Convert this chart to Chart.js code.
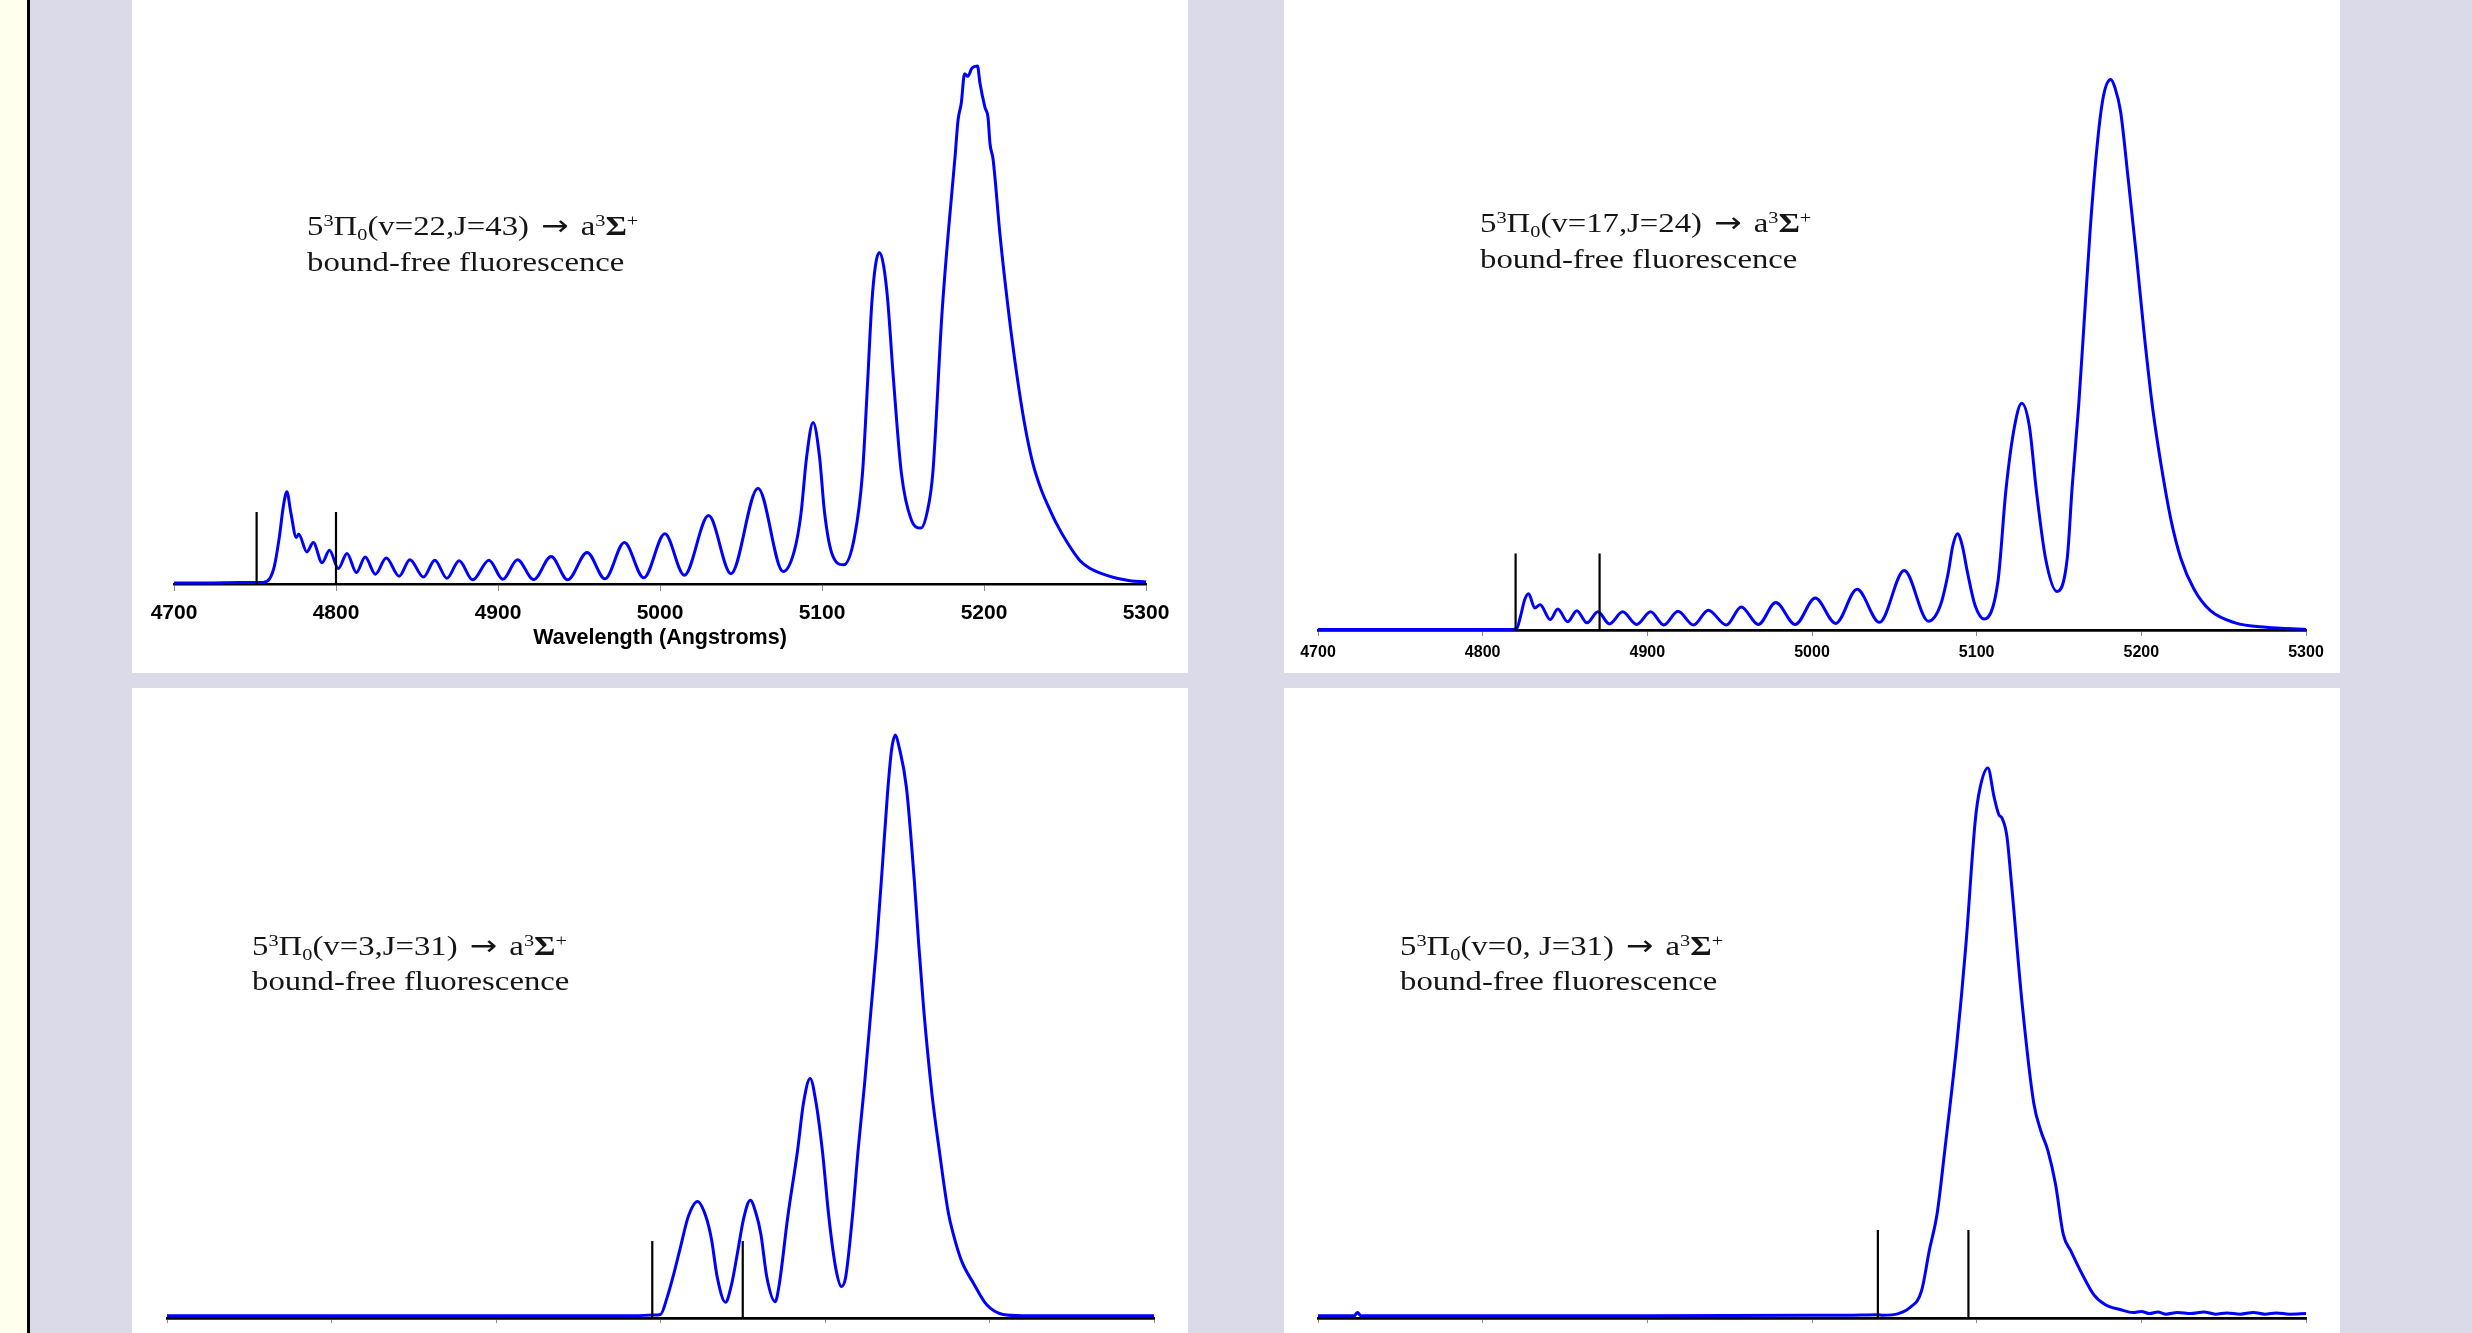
<!DOCTYPE html>
<html>
<head>
<meta charset="utf-8">
<title>5³Π₀ → a³Σ⁺ bound-free fluorescence</title>
<script src="https://cdn.jsdelivr.net/npm/chart.js@4.4.1/dist/chart.umd.min.js"></script>
<style>
  html, body { margin: 0; padding: 0; }
  body {
    width: 2472px; height: 1333px; overflow: hidden; position: relative;
    background: #dbdae8;
  }
  #strip { position: absolute; left: 0; top: 0; width: 27px; height: 1333px; background: #ffffee; }
  #rule { position: absolute; left: 27px; top: 0; width: 2.5px; height: 1333px; background: #000; }
  .panel { position: absolute; background: #fff; }
  .panel canvas { position: absolute; left: 0; top: 0; }
  .note {
    position: absolute; white-space: nowrap; color: #151515;
    font-family: "Liberation Serif", "Times New Roman", serif;
    font-size: 28px; line-height: 36px;
    transform: scaleX(1.17); transform-origin: 0 0;
  }
  .note sup, .note sub { font-size: 0.62em; line-height: 0; position: relative; vertical-align: baseline; }
  .note sup { top: -0.52em; }
  .note sub { top: 0.28em; }
  .note b { font-weight: bold; }
  .note .arrow { font-family: "DejaVu Sans", sans-serif; font-size: 1em; margin: 0 0.12em; }
</style>
</head>
<body>
<div id="strip"></div>
<div id="rule"></div>

<div class="panel" style="left:132px; top:0; width:1056px; height:673px;"><canvas id="c1" width="1056" height="673"></canvas></div>
<div class="panel" style="left:1284px; top:0; width:1056px; height:673px;"><canvas id="c2" width="1056" height="673"></canvas></div>
<div class="panel" style="left:132px; top:688px; width:1056px; height:645px;"><canvas id="c3" width="1056" height="645"></canvas></div>
<div class="panel" style="left:1284px; top:688px; width:1056px; height:645px;"><canvas id="c4" width="1056" height="645"></canvas></div>

<div class="note" style="left:307px; top:208px;">5<sup>3</sup>Π<sub>0</sub>(v=22,J=43) <span class="arrow">→</span> a<sup>3</sup><b>Σ</b><sup>+</sup></div>
<div class="note" style="left:307px; top:244px;">bound-free fluorescence</div>
<div class="note" style="left:1480px; top:205px;">5<sup>3</sup>Π<sub>0</sub>(v=17,J=24) <span class="arrow">→</span> a<sup>3</sup><b>Σ</b><sup>+</sup></div>
<div class="note" style="left:1480px; top:241px;">bound-free fluorescence</div>
<div class="note" style="left:252px; top:928px;">5<sup>3</sup>Π<sub>0</sub>(v=3,J=31) <span class="arrow">→</span> a<sup>3</sup><b>Σ</b><sup>+</sup></div>
<div class="note" style="left:252px; top:963px;">bound-free fluorescence</div>
<div class="note" style="left:1400px; top:928px;">5<sup>3</sup>Π<sub>0</sub>(v=0, J=31) <span class="arrow">→</span> a<sup>3</sup><b>Σ</b><sup>+</sup></div>
<div class="note" style="left:1400px; top:963px;">bound-free fluorescence</div>

<script>
// Wavelength axis (Angstroms)
const tickValues = [4700, 4800, 4900, 5000, 5100, 5200, 5300];

// v=22, J=43 spectrum (relative intensity, main peak = 100)
const wl1 = [4700, 4720, 4740, 4755, 4759, 4762, 4765, 4767.5, 4769.7, 4772, 4775.5, 4777, 4782, 4786,
  4791.4, 4796, 4801.4, 4806.8, 4812.6, 4818, 4824.3, 4831, 4839, 4845.6, 4854, 4861, 4868.5, 4876,
  4884.4, 4894.4, 4903, 4912, 4922, 4932.8, 4943, 4955, 4966, 4978, 4990, 5003, 5015, 5030, 5043.8,
  5060.5, 5076, 5083, 5087, 5090.5, 5094.5, 5098.5, 5101.5, 5106, 5113.4, 5120, 5125, 5128, 5130.7,
  5133, 5135.4, 5138, 5140.5, 5144, 5149, 5155, 5161, 5165, 5168.4, 5174, 5178, 5182, 5184, 5186,
  5188, 5190, 5192.6, 5196, 5197.5, 5200.6, 5202.5, 5203.7, 5205.6, 5210, 5215, 5220, 5225, 5230,
  5235, 5240, 5245, 5251, 5259, 5265, 5273.6, 5282, 5290, 5300];
const int1 = [0.2, 0.2, 0.3, 0.3, 1.0, 3.5, 9, 15, 17.8, 14, 9.0, 9.6, 6.2, 8.0,
  4.1, 6.5, 3.0, 5.9, 2.2, 5.2, 1.9, 5.0, 1.5, 4.7, 1.35, 4.6, 1.1, 4.5,
  0.8, 4.6, 0.9, 4.7, 0.85, 5.3, 0.8, 6.1, 1.0, 8.0, 1.2, 9.7, 1.7, 13.2, 2.0,
  18.5, 2.4, 6.5, 13.5, 24.5, 31.2, 24.5, 14, 6, 3.7, 9, 21.4, 38, 54,
  61.5, 64, 61.5, 55, 40, 21.4, 12.5, 10.8, 14, 21.4, 51.9, 68, 82, 89.6, 92.9,
  98.5, 98.0, 99.6, 100, 96.7, 92, 90, 85, 82, 67, 53, 41, 31, 23.5,
  18.5, 14.8, 11.5, 8.2, 4.6, 3.1, 1.9, 1.1, 0.64, 0.4];
const markers1 = [4751, 4800];
const markerTop1 = 13.9;

// v=17, J=24 spectrum
const wl2 = [4700, 4760, 4815, 4820.5, 4823, 4825.5, 4827.9, 4831.6, 4834.9, 4841, 4845.6, 4851.6,
  4857.2, 4863.3, 4870, 4877, 4885, 4893.5, 4902, 4910, 4918.6, 4928, 4937, 4948, 4957, 4967.4,
  4978, 4989.8, 5002, 5014.4, 5027.4, 5041, 5056, 5070.7, 5078, 5082.8, 5085.5, 5088.4, 5091.3,
  5094.4, 5099, 5104.6, 5113, 5117.7, 5123, 5127.4, 5132, 5136.3, 5141.9, 5148.8, 5155, 5158, 5162,
  5165.5, 5169, 5173.5, 5177, 5181.4, 5184, 5187.4, 5192, 5197, 5202, 5207, 5212, 5218, 5224, 5232,
  5242, 5257, 5276, 5300];
const int2 = [0.1, 0.1, 0.1, 0.2, 2.5, 5.5, 6.6, 4.0, 4.6, 1.9, 3.8, 1.5,
  3.5, 1.3, 3.3, 1.1, 3.3, 1.0, 3.3, 0.9, 3.4, 0.9, 3.6, 0.9, 4.2, 1.0,
  5.0, 1.0, 5.8, 1.2, 7.4, 1.4, 10.8, 1.6, 4.5, 10.5, 15.3, 17.5, 15.3,
  10.5, 4.5, 2.0, 9.0, 25.2, 37, 41.2, 37, 25.2, 12.9, 7.0, 13, 26, 41,
  57, 73, 89, 97, 100, 98.5, 94.2, 82, 68, 53, 40, 30, 20, 13, 7.4,
  3.5, 1.3, 0.5, 0.1];
const markers2 = [4820, 4871];
const markerTop2 = 13.9;

// v=3, J=31 spectrum
const wl3 = [4700, 4850, 4985, 4995, 5000, 5004, 5008, 5012, 5017, 5022.5, 5027.5, 5031, 5034.5,
  5039.5, 5043, 5047, 5050.5, 5054.6, 5058, 5061, 5064.7, 5069.7, 5072.2, 5077.3, 5083.3, 5087,
  5091, 5094.5, 5098.4, 5102.4, 5106.5, 5110, 5112.5, 5116.6, 5120.1, 5124, 5128, 5131.3, 5135,
  5138, 5140.5, 5142.8, 5145, 5149.5, 5154.3, 5157, 5160, 5165, 5169.5, 5175, 5178, 5183, 5190.6,
  5198.2, 5208.3, 5220, 5300];
const int3 = [0.4, 0.4, 0.4, 0.5, 0.6, 3.5, 7.5, 12, 17.5, 20, 17.5, 13.5, 7,
  2.7, 5.5, 11.5, 17, 20.2, 18, 14.4, 6.9, 2.8, 5.8, 17.2, 28.7, 37,
  41.1, 37, 28.7, 17.2, 8.6, 5.4, 6.9, 17.2, 28.7, 40, 53, 63.7, 78,
  90, 97.5, 100, 98, 91, 75, 64, 53, 38.5, 28.7, 18, 14.4, 9.8, 5.8,
  2.3, 0.6, 0.4, 0.4];
const markers3 = [4995, 5050];
const markerTop3 = 13.2;

// v=0, J=31 spectrum
const wl4 = [4700, 4722, 4724, 4726, 4800, 4900, 5000, 5020, 5040, 5043, 5052.5, 5059.5, 5066.5,
  5071.2, 5076, 5080.6, 5088, 5093.4, 5099.2, 5102, 5106.8, 5110.6, 5113.5, 5115.4, 5118.3, 5121.1,
  5127.8, 5134.6, 5139, 5143.3, 5147.9, 5152.6, 5157.2, 5164.2, 5171.2, 5178.2, 5187.5, 5195, 5200,
  5205, 5210, 5215, 5222, 5230, 5238, 5245, 5252, 5260, 5268, 5275, 5282, 5290, 5300];
const int4 = [0.4, 0.4, 1.0, 0.4, 0.4, 0.4, 0.5, 0.5, 0.6, 0.5, 0.8, 1.9, 4.9,
  12.2, 19, 30.4, 50, 67.6, 90.6, 96.3, 100, 94.7, 91.5, 90.9, 87.7, 79.1,
  56.6, 39.2, 34, 30.4, 24.3, 15.2, 12.2, 7.9, 4.2, 2.4, 1.5, 1.0, 1.2,
  0.8, 1.1, 0.7, 1.0, 0.8, 1.1, 0.7, 0.9, 0.7, 1.0, 0.7, 0.9, 0.7, 0.8];
const markers4 = [5040, 5095];
const markerTop4 = 16.0;

const BLUE = '#0000ff';

function points(xs, ys) {
  return xs.map((x, i) => ({ x: x, y: ys[i] }));
}

function buildPanel(id, wl, inten, markers, markerTop, look) {
  const datasets = [{
    data: points(wl, inten),
    borderColor: BLUE,
    borderWidth: 3,
    pointRadius: 0,
    fill: false,
    cubicInterpolationMode: 'monotone',
    clip: false,
    order: 1
  }];
  markers.forEach(m => {
    datasets.push({
      data: [{ x: m, y: 0 }, { x: m, y: markerTop }],
      borderColor: '#000',
      borderWidth: 2.2,
      pointRadius: 0,
      fill: false,
      clip: false,
      order: 0
    });
  });

  return new Chart(document.getElementById(id), {
    type: 'line',
    data: { datasets: datasets },
    options: {
      responsive: false,
      animation: false,
      devicePixelRatio: 1,
      layout: { padding: look.padding },
      plugins: { legend: { display: false }, tooltip: { enabled: false } },
      scales: {
        x: {
          type: 'linear',
          min: tickValues[0],
          max: tickValues[tickValues.length - 1],
          afterBuildTicks: s => { s.ticks = tickValues.map(v => ({ value: v })); },
          afterFit: s => { s.height = look.axisHeight; },
          grid: {
            display: true,
            drawOnChartArea: false,
            drawTicks: true,
            tickLength: look.tickLength,
            tickColor: '#8a8a8a',
            tickWidth: 1
          },
          border: { display: true, color: '#000', width: look.borderWidth },
          ticks: {
            display: look.showLabels,
            autoSkip: false,
            maxRotation: 0,
            padding: look.labelPad,
            color: '#000',
            font: { family: '"Liberation Sans", Arial, sans-serif', weight: 'bold', size: look.labelSize },
            callback: v => String(v)
          },
          title: {
            display: !!look.title,
            text: look.title || '',
            color: '#000',
            font: { family: '"Liberation Sans", Arial, sans-serif', weight: 'bold', size: 21.5 },
            padding: { top: 0, bottom: 22 }
          }
        },
        y: { display: false, min: 0, max: 100 }
      }
    }
  });
}

buildPanel('c1', wl1, int1, markers1, markerTop1, {
  padding: { left: 42, right: 42, top: 66, bottom: 0 },
  axisHeight: 89, tickLength: 7, borderWidth: 2.5,
  showLabels: true, labelPad: 10, labelSize: 21,
  title: 'Wavelength (Angstroms)'
});
buildPanel('c2', wl2, int2, markers2, markerTop2, {
  padding: { left: 34, right: 34, top: 79.5, bottom: 0 },
  axisHeight: 43, tickLength: 6, borderWidth: 2.7,
  showLabels: true, labelPad: 7, labelSize: 16
});
buildPanel('c3', wl3, int3, markers3, markerTop3, {
  padding: { left: 35, right: 34, top: 47, bottom: 0 },
  axisHeight: 15, tickLength: 5, borderWidth: 2.8,
  showLabels: false, labelPad: 0, labelSize: 12
});
buildPanel('c4', wl4, int4, markers4, markerTop4, {
  padding: { left: 34, right: 34, top: 80, bottom: 0 },
  axisHeight: 15, tickLength: 5, borderWidth: 2.8,
  showLabels: false, labelPad: 0, labelSize: 12
});
</script>
</body>
</html>
